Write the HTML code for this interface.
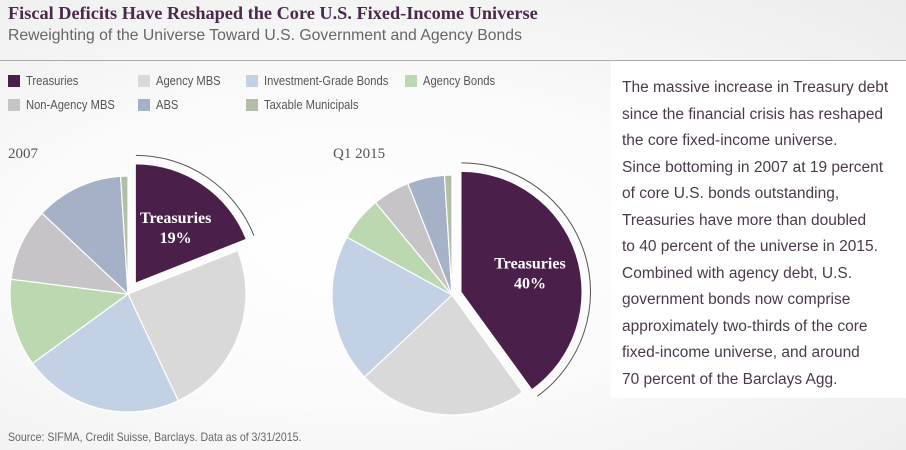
<!DOCTYPE html>
<html><head><meta charset="utf-8"><style>
body{margin:0;width:906px;height:450px;overflow:hidden;font-family:"Liberation Sans",sans-serif;background:radial-gradient(ellipse at 40% 55%,#ffffff 0%,#fafafa 45%,#ececec 100%);position:relative}
.t{position:absolute;white-space:nowrap}
.leg{position:absolute;font-family:"Liberation Sans Narrow","Liberation Sans",sans-serif;font-size:13px;color:#555;white-space:nowrap;transform:scaleX(0.86);transform-origin:0 0}
.sw{position:absolute;width:12px;height:12px}
</style></head><body>
<div class="t" style="left:8px;top:3px;font-family:'Liberation Serif',serif;font-weight:bold;font-size:18.3px;color:#4a2a4a">Fiscal Deficits Have Reshaped the Core U.S. Fixed-Income Universe</div>
<div class="t" style="left:8px;top:27px;font-size:16px;color:#666;transform:scaleX(0.985);transform-origin:0 0">Reweighting of the Universe Toward U.S. Government and Agency Bonds</div>
<div style="position:absolute;left:0;top:60px;width:906px;height:1px;background:#aaa"></div>
<div style="position:absolute;left:611px;top:61px;width:295px;height:337px;background:#fff"></div>
<div class="t" style="left:622px;top:75px;font-size:15.5px;line-height:26.5px;color:#4a3a4a">The massive increase in Treasury debt<br>since the financial crisis has reshaped<br>the core fixed-income universe.<br>Since bottoming in 2007 at 19 percent<br>of core U.S. bonds outstanding,<br>Treasuries have more than doubled<br>to 40 percent of the universe in 2015.<br>Combined with agency debt, U.S.<br>government bonds now comprise<br>approximately two-thirds of the core<br>fixed-income universe, and around<br>70 percent of the Barclays Agg.</div>
<div id="legend"></div>
<div class="t" style="left:8px;top:146px;font-family:'Liberation Serif',serif;font-size:15px;color:#555">2007</div>
<div class="t" style="left:333px;top:146px;font-family:'Liberation Serif',serif;font-size:15px;color:#555">Q1 2015</div>
<svg id="pies" width="906" height="450" style="position:absolute;left:0;top:0"></svg>
<div class="t" style="left:8px;top:430px;font-family:'Liberation Sans Narrow','Liberation Sans',sans-serif;font-size:12px;color:#666;transform:scaleX(0.88);transform-origin:0 0">Source: SIFMA, Credit Suisse, Barclays. Data as of 3/31/2015.</div>
<script>
const categories=["Treasuries","Agency MBS","Investment-Grade Bonds","Agency Bonds","Non-Agency MBS","ABS","Taxable Municipals"];
const colors=["#4a1f4a","#d9d9d9","#c2d1e3","#bcd8b0","#c6c4c6","#a5b1c6","#b2bea6"];
const values2007=[19,24,22,12,10,12,1];
const values2015=[40,23,20,6,5,5,1];
const legendPos=[[8,75],[138,75],[246,75],[405,75],[8,99],[138,99],[246,99]];
const leg=document.getElementById('legend');
categories.forEach((c,i)=>{
  const s=document.createElement('div');s.className='sw';
  
  
  s.style.left=legendPos[i][0]+'px';s.style.top=legendPos[i][1]+'px';s.style.background=colors[i];leg.appendChild(s);
  const t=document.createElement('div');t.className='leg';
  
  
  t.style.left=(legendPos[i][0]+18)+'px';t.style.top=(legendPos[i][1]-2)+'px';t.textContent=c;leg.appendChild(t);
});
const svg=document.getElementById('pies');const NS='http://www.w3.org/2000/svg';
function pt(cx,cy,r,a){return [cx+r*Math.sin(a),cy-r*Math.cos(a)];}
function drawPie(vals,cx,cy,r,explode){
  const tot=vals.reduce((a,b)=>a+b,0);let a0=0;
  vals.forEach((v,i)=>{
    const a1=a0+v/tot*2*Math.PI;let ox=0,oy=0;
    if(i===0){const m=(a0+a1)/2;ox=explode*Math.sin(m);oy=-explode*Math.cos(m);}
    const c=[cx+ox,cy+oy];const p0=pt(c[0],c[1],r,a0),p1=pt(c[0],c[1],r,a1);
    const large=(a1-a0)>Math.PI?1:0;
    const p=document.createElementNS(NS,'path');
    p.setAttribute('d',`M${c[0]},${c[1]}L${p0[0]},${p0[1]}A${r},${r} 0 ${large} 1 ${p1[0]},${p1[1]}Z`);
    p.setAttribute('fill',colors[i]);p.setAttribute('stroke','#fff');p.setAttribute('stroke-width',i===0?0:1.2);
    
    
    svg.appendChild(p);
    if(i===0){
      const rr=r+9,q0=pt(c[0],c[1],rr,a0),q1=pt(c[0],c[1],rr,a1);
      const arc=document.createElementNS(NS,'path');
      arc.setAttribute('d',`M${q0[0]},${q0[1]}A${rr},${rr} 0 ${large} 1 ${q1[0]},${q1[1]}`);
      arc.setAttribute('fill','none');arc.setAttribute('stroke','#555');arc.setAttribute('stroke-width','1');
      
      
      svg.appendChild(arc);
      const m=(a0+a1)/2,lp=pt(c[0],c[1],r*0.6,m);
      [categories[0],v+'%'].forEach((s,k)=>{
        const t=document.createElementNS(NS,'text');t.setAttribute('x',lp[0]);t.setAttribute('y',lp[1]+(k===0?-1:19));
        t.setAttribute('text-anchor','middle');t.setAttribute('fill','#fff');t.setAttribute('font-family','Liberation Serif, serif');t.setAttribute('font-size','16');t.setAttribute('font-weight','bold');
        
        
        t.textContent=s;svg.appendChild(t);
      });
    }
    a0=a1;
  });
}
drawPie(values2007,128,294,118,14);
drawPie(values2015,452,295,120,10);
</script>
</body></html>
